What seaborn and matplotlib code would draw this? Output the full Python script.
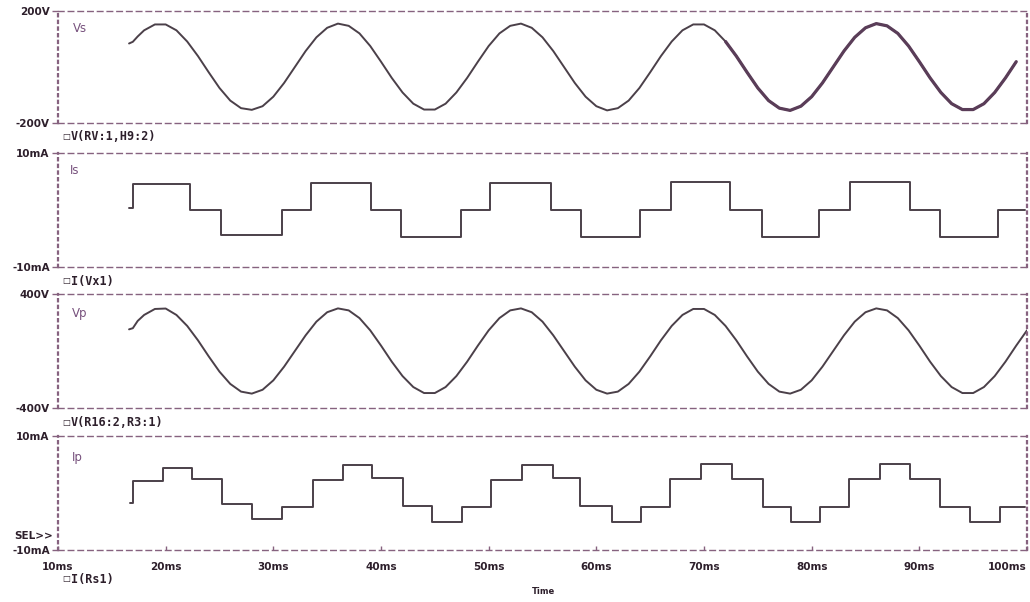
import matplotlib
matplotlib.use("Agg")
import matplotlib.pyplot as plt
import pandas as pd
import seaborn as sns

# ---- waveform data (time in ms) ----
# Source voltage Vs (V)
vs_t = [16.6, 16.95, 17.4] + list(range(18, 100))
vs_v = [84, 90, 109,
        131, 152, 152, 131, 91, 39, -19, -75, -120, -147,
        -153, -140, -106, -57, 0, 57, 106, 140, 155, 147,
        120, 75, 19, -39, -91, -131, -152, -152, -131, -91,
        -39, 19, 75, 120, 147, 155, 140, 106, 57, 0,
        -57, -106, -140, -155, -147, -120, -75, -19, 39, 91,
        131, 152, 152, 131, 91, 39, -19, -75, -120, -147,
        -155, -140, -106, -57, 0, 57, 106, 140, 155, 147,
        120, 75, 19, -39, -91, -131, -152, -152, -131, -91,
        -39, 19]

# Primary voltage Vp (V)
vp_t = [16.6, 16.95, 17.4] + list(range(18, 101))
vp_v = [152, 160, 211,
        253, 295, 298, 253, 176, 75, -38, -145, -231, -285,
        -299, -272, -206, -110, 0, 110, 206, 272, 299, 285,
        231, 145, 38, -75, -176, -253, -295, -295, -253, -176,
        -75, 38, 145, 231, 285, 299, 272, 206, 110, 0,
        -110, -206, -272, -299, -285, -231, -145, -38, 75, 176,
        253, 295, 295, 253, 176, 75, -38, -145, -231, -285,
        -299, -272, -206, -110, 0, 110, 206, 272, 299, 285,
        231, 145, 38, -75, -176, -253, -295, -295, -253, -176,
        -75, 38, 145]

# Source current Is (mA), three-level staircase
is_t = [16.59, 16.96, 22.26, 25.13, 30.85, 33.54, 39.11, 41.89, 47.47,
        50.11, 55.82, 58.61, 64.04, 66.96, 72.40, 75.37, 80.71, 83.54,
        89.11, 91.89, 97.33, 99.79]
is_v = [0.3, 4.5, 0.0, -4.4, 0.0, 4.8, 0.0, -4.7, 0.0,
        4.8, 0.0, -4.8, 0.0, 4.9, 0.0, -4.8, 0.0, 4.9,
        0.0, -4.8, 0.0, 0.0]

# Primary current Ip (mA), five-level staircase
ip_t = [16.69, 16.96, 19.75, 22.44, 25.23, 28.01, 30.80, 33.68, 36.46,
        39.15, 42.03, 44.73, 47.51, 50.21, 53.08, 55.96, 58.47, 61.44,
        64.13, 66.82, 69.70, 72.58, 75.46, 78.06, 80.75, 83.45, 86.32,
        89.11, 91.89, 94.68, 97.47, 99.79]
ip_v = [-1.75, 2.1, 4.4, 2.4, -1.9, -4.6, -2.4, 2.3, 4.9,
        2.6, -2.3, -5.1, -2.4, 2.3, 4.9, 2.6, -2.3, -5.1,
        -2.5, 2.4, 5.1, 2.5, -2.4, -5.1, -2.5, 2.4, 5.1,
        2.5, -2.4, -5.1, -2.5, -2.5]

# ---- axis text ----
trace_names = ["Vs", "Is", "Vp", "Ip"]
legend_names = ["V(RV:1,H9:2)", "I(Vx1)", "V(R16:2,R3:1)", "I(Rs1)"]
y_limits = [(-200, 200), (-10, 10), (-400, 400), (-10, 10)]
y_tick_labels = [("-200V", "200V"), ("-10mA", "10mA"),
                 ("-400V", "400V"), ("-10mA", "10mA")]
x_ticks = [10, 20, 30, 40, 50, 60, 70, 80, 90, 100]
x_tick_labels = ["10ms", "20ms", "30ms", "40ms", "50ms",
                 "60ms", "70ms", "80ms", "90ms", "100ms"]

sns.set_style("white")
plt.rcParams["font.family"] = ["DejaVu Sans"]

FRAME = "#86627f"
TRACE = "#4b4049"
TEXT = "#2d1f2b"
NAME = "#76507c"

W, H = 1030, 602
fig = plt.figure(figsize=(W / 100, H / 100), dpi=100)

# panel extents in pixels: (top, bottom)
panel_px = [(11, 123), (153, 267), (294, 408), (436, 550)]
left_px, right_px = 58, 1027

axes = []
for top, bot in panel_px:
    ax = fig.add_axes([left_px / W, 1 - bot / H,
                       (right_px - left_px) / W, (bot - top) / H])
    axes.append(ax)

frames = [
    pd.DataFrame({"t": vs_t, "v": vs_v}),
    pd.DataFrame({"t": is_t, "v": is_v}),
    pd.DataFrame({"t": vp_t, "v": vp_v}),
    pd.DataFrame({"t": ip_t, "v": ip_v}),
]
steps = [False, True, False, True]

for i, ax in enumerate(axes):
    df = frames[i]
    kw = dict(drawstyle="steps-post") if steps[i] else {}
    sns.lineplot(data=df, x="t", y="v", ax=ax, color=TRACE, lw=1.4,
                 estimator=None, sort=False, **kw)
    if i == 0:
        # later part of the source trace is drawn heavier
        late = df[df["t"] >= 72]
        sns.lineplot(data=late, x="t", y="v", ax=ax, color="#5a3d58",
                     lw=2.3, estimator=None, sort=False)

    lo, hi = y_limits[i]
    ax.set_xlim(10, 100)
    ax.set_ylim(lo, hi)
    ax.set_xlabel("")
    ax.set_ylabel("")
    ax.set_yticks([lo, hi])
    ax.set_yticklabels(list(y_tick_labels[i]), fontsize=7.5,
                       fontweight="bold", color=TEXT)
    ax.tick_params(axis="y", direction="out", length=4, width=1,
                   color=FRAME, pad=2, left=True)
    ax.set_facecolor("white")

    for side in ("top", "bottom"):
        sp = ax.spines[side]
        sp.set_visible(True)
        sp.set_color(FRAME)
        sp.set_linewidth(1.0)
        sp.set_linestyle((0, (4, 3)))
    for side in ("left", "right"):
        sp = ax.spines[side]
        sp.set_visible(True)
        sp.set_color(FRAME)
        sp.set_linewidth(1.6)
        sp.set_linestyle((0, (1, 2)))

    if i < 3:
        ax.set_xticks([])
    else:
        ax.set_xticks(x_ticks)
        ax.set_xticklabels(x_tick_labels, fontsize=7.5, fontweight="bold",
                           color=TEXT)
        ax.tick_params(axis="x", direction="in", length=3, width=1,
                       color=FRAME, pad=9, bottom=True)
        ax.get_xticklabels()[-1].set_horizontalalignment("right")

# trace names inside each panel
name_pos = [(73, 28), (70, 171), (72, 314), (72, 458)]
for (x, y), name in zip(name_pos, trace_names):
    fig.text(x / W, 1 - y / H, name, fontsize=8.5, color=NAME,
             ha="left", va="center")

# legend entries under each panel
legend_y = [137, 281, 423, 579]
for y, lab in zip(legend_y, legend_names):
    fig.text(62 / W, 1 - y / H, "\u25a1", fontsize=6, color=TEXT,
             ha="left", va="center")
    fig.text(71 / W, 1 - y / H, lab, fontsize=8.5, fontweight="bold",
             family="DejaVu Sans Mono", color=TEXT, ha="left", va="center")

fig.text(14 / W, 1 - 536 / H, "SEL>>", fontsize=7.5, fontweight="bold",
         color=TEXT, ha="left", va="center")
fig.text(544 / W, 1 - 592 / H, "Time", fontsize=6, fontweight="bold",
         color=TEXT, ha="center", va="center")

fig.savefig("out.png", dpi=100, facecolor="white")
